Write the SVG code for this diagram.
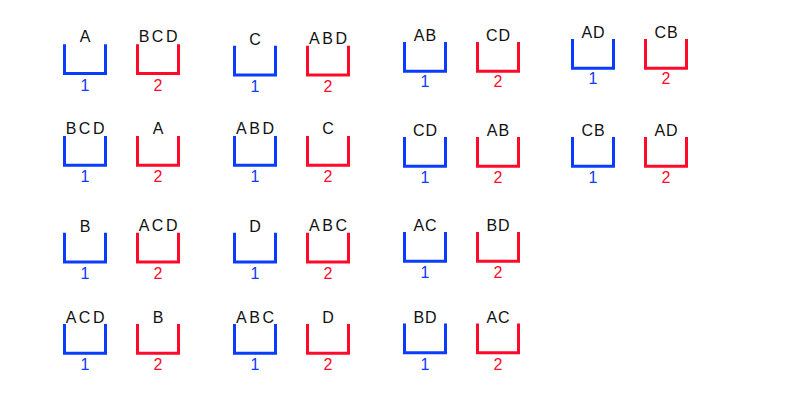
<svg xmlns="http://www.w3.org/2000/svg" width="800" height="400" viewBox="0 0 800 400">
<style>
.b{fill:none;stroke:#0a3cff;stroke-width:3;stroke-linejoin:miter}
.r{fill:none;stroke:#ff0a2a;stroke-width:3;stroke-linejoin:miter}
text{font-family:"Liberation Sans",Arial,sans-serif;font-size:16px;text-anchor:middle}
.t{fill:#111}
.t2{fill:#111;letter-spacing:1px}
.t3{fill:#111;letter-spacing:2.5px}
.nb{fill:#0a3cff}
.nr{fill:#ff0a2a}
</style>
<rect width="800" height="400" fill="#fff"/>
<g id="connectors"/>
<!-- Row 1 -->
<g id="r1c1-1"><path class="b" d="M64.5,44.3V73.5H105.5V44.3"/><text class="t" x="85" y="41.7">A</text><text class="nb" x="85" y="90.5">1</text></g>
<g id="r1c1-2"><path class="r" d="M137.5,44.3V73.5H178.5V44.3"/><text class="t3" x="159.3" y="41.7">BCD</text><text class="nr" x="158" y="90.5">2</text></g>
<g id="r1c2-1"><path class="b" d="M234.5,45.7V74.9H275.5V45.7"/><text class="t" x="255" y="45">C</text><text class="nb" x="255" y="91.5">1</text></g>
<g id="r1c2-2"><path class="r" d="M307.5,45.7V74.9H348.5V45.7"/><text class="t3" x="329.3" y="44">ABD</text><text class="nr" x="328" y="91.5">2</text></g>
<g id="r1c3-1"><path class="b" d="M404.5,42V71.2H445.5V42"/><text class="t2" x="425.5" y="40.7">AB</text><text class="nb" x="425" y="87">1</text></g>
<g id="r1c3-2"><path class="r" d="M477.5,42V71.2H518.5V42"/><text class="t2" x="498.5" y="40.7">CD</text><text class="nr" x="498" y="87">2</text></g>
<g id="r1c4-1"><path class="b" d="M572.5,39V68.2H613.5V39"/><text class="t2" x="593.5" y="37.7">AD</text><text class="nb" x="593" y="84">1</text></g>
<g id="r1c4-2"><path class="r" d="M645.5,39V68.2H686.5V39"/><text class="t2" x="666.5" y="37.7">CB</text><text class="nr" x="666" y="84">2</text></g>
<!-- Row 2 -->
<g id="r2c1-1"><path class="b" d="M64.5,136V165.2H105.5V136"/><text class="t3" x="86.3" y="133.5">BCD</text><text class="nb" x="85" y="182">1</text></g>
<g id="r2c1-2"><path class="r" d="M137.5,136V165.2H178.5V136"/><text class="t" x="158" y="133.5">A</text><text class="nr" x="158" y="182">2</text></g>
<g id="r2c2-1"><path class="b" d="M234.5,136V165.2H275.5V136"/><text class="t3" x="256.3" y="134">ABD</text><text class="nb" x="255" y="182">1</text></g>
<g id="r2c2-2"><path class="r" d="M307.5,136V165.2H348.5V136"/><text class="t" x="328" y="134">C</text><text class="nr" x="328" y="182">2</text></g>
<g id="r2c3-1"><path class="b" d="M404.5,137V166.2H445.5V137"/><text class="t2" x="425.5" y="135.7">CD</text><text class="nb" x="425" y="183">1</text></g>
<g id="r2c3-2"><path class="r" d="M477.5,137V166.2H518.5V137"/><text class="t2" x="498.5" y="135.7">AB</text><text class="nr" x="498" y="183">2</text></g>
<g id="r2c4-1"><path class="b" d="M572.5,137V166.2H613.5V137"/><text class="t2" x="593.5" y="135.5">CB</text><text class="nb" x="593" y="183">1</text></g>
<g id="r2c4-2"><path class="r" d="M645.5,137V166.2H686.5V137"/><text class="t2" x="666.5" y="135.5">AD</text><text class="nr" x="666" y="183">2</text></g>
<!-- Row 3 -->
<g id="r3c1-1"><path class="b" d="M64.5,232.7V261.9H105.5V232.7"/><text class="t" x="85" y="232">B</text><text class="nb" x="85" y="278.5">1</text></g>
<g id="r3c1-2"><path class="r" d="M137.5,232.7V261.9H178.5V232.7"/><text class="t3" x="159.3" y="231.3">ACD</text><text class="nr" x="158" y="278.5">2</text></g>
<g id="r3c2-1"><path class="b" d="M234.5,232.7V261.9H275.5V232.7"/><text class="t" x="255" y="231.7">D</text><text class="nb" x="255" y="278.5">1</text></g>
<g id="r3c2-2"><path class="r" d="M307.5,232.7V261.9H348.5V232.7"/><text class="t3" x="329.3" y="230.7">ABC</text><text class="nr" x="328" y="278.5">2</text></g>
<g id="r3c3-1"><path class="b" d="M404.5,232V261.2H445.5V232"/><text class="t2" x="425.5" y="230.7">AC</text><text class="nb" x="425" y="278">1</text></g>
<g id="r3c3-2"><path class="r" d="M477.5,232V261.2H518.5V232"/><text class="t2" x="498.5" y="230.7">BD</text><text class="nr" x="498" y="278">2</text></g>
<!-- Row 4 -->
<g id="r4c1-1"><path class="b" d="M64.5,324V353.2H105.5V324"/><text class="t3" x="86.3" y="323.3">ACD</text><text class="nb" x="85" y="370">1</text></g>
<g id="r4c1-2"><path class="r" d="M137.5,324V353.2H178.5V324"/><text class="t" x="158" y="323.3">B</text><text class="nr" x="158" y="370">2</text></g>
<g id="r4c2-1"><path class="b" d="M234.5,324V353.2H275.5V324"/><text class="t3" x="256.3" y="323">ABC</text><text class="nb" x="255" y="370">1</text></g>
<g id="r4c2-2"><path class="r" d="M307.5,324V353.2H348.5V324"/><text class="t" x="328" y="323">D</text><text class="nr" x="328" y="370">2</text></g>
<g id="r4c3-1"><path class="b" d="M404.5,323.5V352.7H445.5V323.5"/><text class="t2" x="425.5" y="322.8">BD</text><text class="nb" x="425" y="369.5">1</text></g>
<g id="r4c3-2"><path class="r" d="M477.5,323.5V352.7H518.5V323.5"/><text class="t2" x="498.5" y="322.8">AC</text><text class="nr" x="498" y="369.5">2</text></g>
</svg>
